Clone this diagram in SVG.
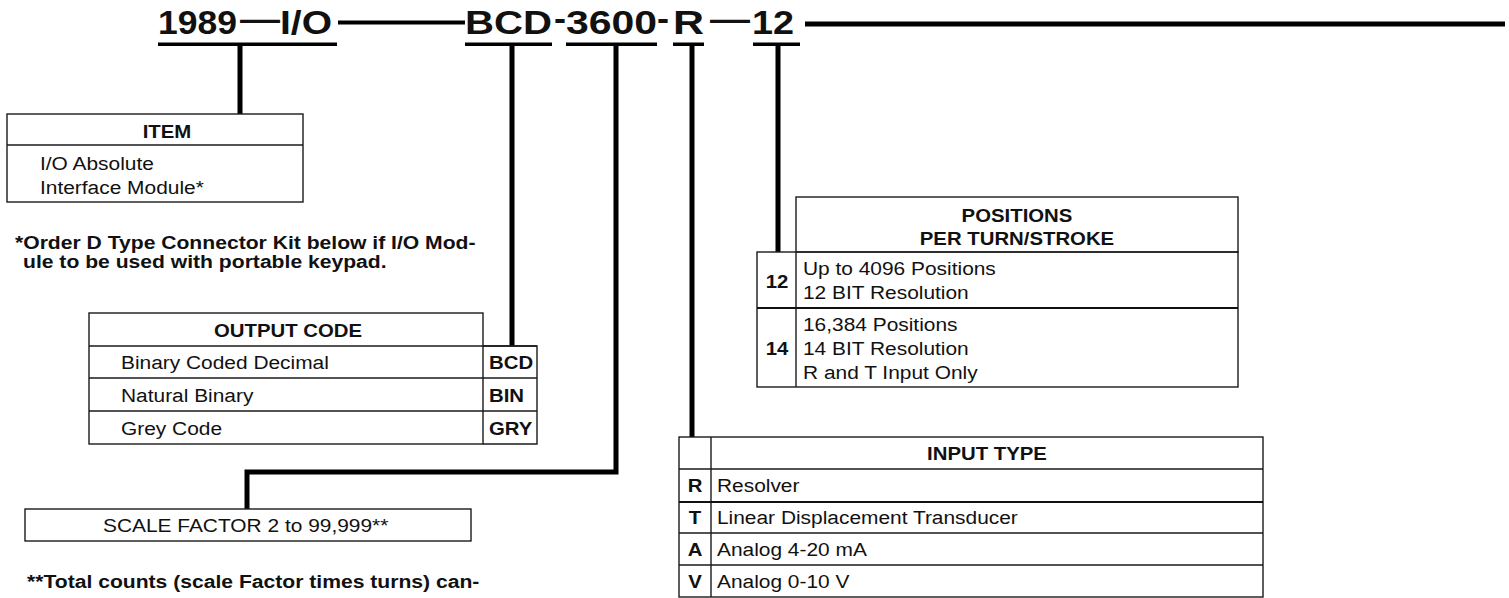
<svg xmlns="http://www.w3.org/2000/svg" width="1509" height="598" viewBox="0 0 1509 598">
<style>
text { font-family: "Liberation Sans", Arial, sans-serif; fill: #111; transform-box: fill-box; }
.h { font-size: 34px; font-weight: bold; }
.s { transform-origin: 0% 50%; transform: scaleX(1.1); }
.m { text-anchor: middle; transform-origin: 50% 50%; transform: scaleX(1.1); }
.t { font-size: 18.5px; font-weight: bold; }
.n { font-size: 19.2px; font-weight: bold; }
.r { font-size: 19px; }
.box { fill: none; stroke: #1a1a1a; stroke-width: 1.4; }
.ln { stroke: #1a1a1a; stroke-width: 1.4; fill: none; }
.lt { stroke: #111; stroke-width: 2.2; fill: none; }
.con { stroke: #000; stroke-width: 5; fill: none; stroke-linejoin: miter; stroke-linecap: butt; }
.ul { fill: #000; }
</style>

<g id="header">
  <text class="h" x="158" y="34" textLength="79" lengthAdjust="spacingAndGlyphs">1989</text>
  <text class="h" x="240" y="30" textLength="40" lengthAdjust="spacingAndGlyphs">—</text>
  <text class="h" x="280" y="34" textLength="52" lengthAdjust="spacingAndGlyphs">I/O</text>
  <text class="h" x="465" y="34" textLength="87" lengthAdjust="spacingAndGlyphs">BCD</text>
  <text class="h" x="554" y="30" textLength="12" lengthAdjust="spacingAndGlyphs">-</text>
  <text class="h" x="566" y="34" textLength="91" lengthAdjust="spacingAndGlyphs">3600</text>
  <text class="h" x="657" y="30" textLength="12" lengthAdjust="spacingAndGlyphs">-</text>
  <text class="h" x="673" y="34" textLength="31" lengthAdjust="spacingAndGlyphs">R</text>
  <text class="h" x="710" y="30" textLength="40" lengthAdjust="spacingAndGlyphs">—</text>
  <text class="h" x="752" y="34" textLength="42" lengthAdjust="spacingAndGlyphs">12</text>
  <rect class="ul" x="158" y="42.5" width="179" height="3.5"/>
  <rect class="ul" x="465" y="42.5" width="87" height="3.5"/>
  <rect class="ul" x="566" y="42.5" width="91" height="3.5"/>
  <rect class="ul" x="673" y="42.5" width="31" height="3.5"/>
  <rect class="ul" x="753" y="42.5" width="47" height="3.5"/>
</g>

<g id="connectors">
  <line class="con" x1="338" y1="22.5" x2="465" y2="22.5" style="stroke-width:4"/>
  <line class="con" x1="805" y1="24" x2="1505" y2="24"/>
  <line class="con" x1="240" y1="44" x2="240" y2="114"/>
  <line class="con" x1="512" y1="44" x2="512" y2="346"/>
  <polyline class="con" points="616,44 616,472 247,472 247,509"/>
  <line class="con" x1="692" y1="44" x2="692" y2="437"/>
  <line class="con" x1="778" y1="44" x2="778" y2="252"/>
</g>

<g id="item">
  <rect class="box" x="7" y="114" width="296" height="88"/>
  <line class="ln" x1="7" y1="145" x2="303" y2="145"/>
  <text class="t m" x="167" y="138">ITEM</text>
  <text class="r s" x="40" y="170">I/O Absolute</text>
  <text class="r s" x="40" y="194">Interface Module*</text>
</g>

<g id="note-connector-kit">
  <text class="n s" x="15" y="249">*Order D Type Connector Kit below if I/O Mod-</text>
  <text class="n s" x="23" y="268">ule to be used with portable keypad.</text>
</g>

<g id="output-code">
  <rect class="box" x="89" y="313" width="394" height="131"/>
  <line class="ln" x1="89" y1="346" x2="537" y2="346"/>
  <line class="ln" x1="89" y1="378" x2="537" y2="378"/>
  <line class="ln" x1="89" y1="411" x2="537" y2="411"/>
  <polyline class="box" points="483,346 537,346 537,444 483,444"/>
  <text class="t m" x="288" y="337">OUTPUT CODE</text>
  <text class="r s" x="121" y="369">Binary Coded Decimal</text>
  <text class="r s" x="121" y="402">Natural Binary</text>
  <text class="r s" x="121" y="435">Grey Code</text>
  <text class="t s" x="489" y="369">BCD</text>
  <text class="t s" x="489" y="402">BIN</text>
  <text class="t s" x="489" y="435">GRY</text>
</g>

<g id="scale-factor">
  <rect class="box" x="25" y="509" width="446" height="32"/>
  <text class="r s" x="103" y="532">SCALE FACTOR 2 to 99,999**</text>
</g>

<g id="note-total-counts">
  <text class="n s" x="27" y="588">**Total counts (scale Factor times turns) can-</text>
</g>

<g id="positions">
  <rect class="box" x="796" y="197" width="442" height="55"/>
  <rect class="box" x="757" y="252" width="481" height="135"/>
  <line class="ln" x1="796" y1="252" x2="796" y2="387"/>
  <line class="lt" x1="757" y1="308" x2="1238" y2="308"/>
  <text class="t m" x="1017" y="222">POSITIONS</text>
  <text class="t m" x="1017" y="245">PER TURN/STROKE</text>
  <text class="t m" x="777" y="288">12</text>
  <text class="r s" x="803" y="275">Up to 4096 Positions</text>
  <text class="r s" x="803" y="299">12 BIT Resolution</text>
  <text class="t m" x="777" y="355">14</text>
  <text class="r s" x="803" y="331">16,384 Positions</text>
  <text class="r s" x="803" y="355">14 BIT Resolution</text>
  <text class="r s" x="803" y="379">R and T Input Only</text>
</g>

<g id="input-type">
  <rect class="box" x="679" y="437" width="584" height="160"/>
  <line class="ln" x1="711" y1="437" x2="711" y2="597"/>
  <line class="ln" x1="679" y1="469" x2="1263" y2="469"/>
  <line class="lt" x1="679" y1="502" x2="1263" y2="502"/>
  <line class="ln" x1="679" y1="533" x2="1263" y2="533"/>
  <line class="ln" x1="679" y1="565" x2="1263" y2="565"/>
  <text class="t m" x="987" y="460">INPUT TYPE</text>
  <text class="t m" x="695" y="492">R</text>
  <text class="t m" x="695" y="524">T</text>
  <text class="t m" x="695" y="556">A</text>
  <text class="t m" x="695" y="588">V</text>
  <text class="r s" x="717" y="492">Resolver</text>
  <text class="r s" x="717" y="524">Linear Displacement Transducer</text>
  <text class="r s" x="717" y="556">Analog 4-20 mA</text>
  <text class="r s" x="717" y="588">Analog 0-10 V</text>
</g>
</svg>
